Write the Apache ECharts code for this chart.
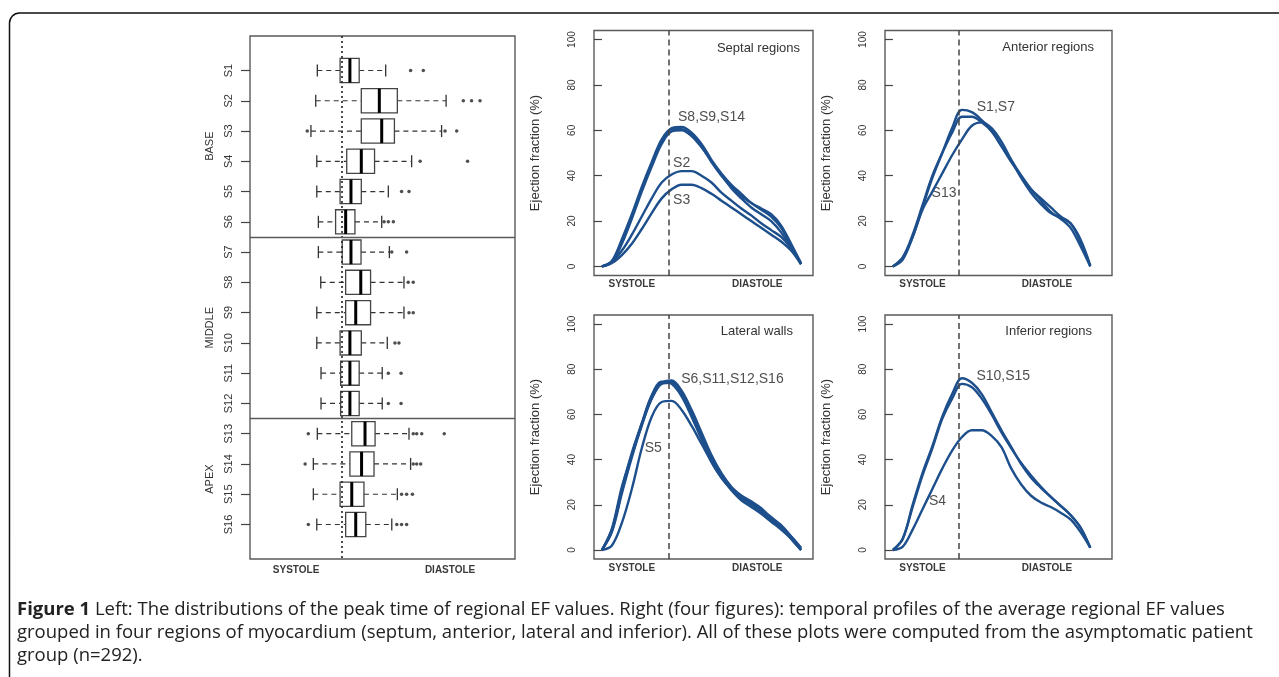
<!DOCTYPE html>
<html>
<head>
<meta charset="utf-8">
<title>Regional EF peak time and temporal profiles</title>
<script src="https://cdn.jsdelivr.net/npm/echarts@6/dist/echarts.min.js"></script>
<style>
  html, body { margin: 0; padding: 0; background: #fff; }
  #chart { width: 1279px; height: 677px; }
</style>
</head>
<body>
<div id="chart"></div>
<script>
// ---- left panel: peak time of regional EF (0 = start of cycle, 100 = end) ----
var segments = ['S1','S2','S3','S4','S5','S6','S7','S8','S9','S10','S11','S12','S13','S14','S15','S16'];
var whiskerLow  = [25.4, 24.8, 23.0, 25.2, 25.2, 25.8, 25.8, 26.7, 25.2, 25.2, 26.8, 26.8, 25.4, 23.9, 23.9, 25.2];
var boxQ1       = [34.0, 42.0, 42.0, 36.5, 34.0, 32.3, 34.8, 36.1, 36.1, 34.0, 34.2, 34.2, 38.4, 37.7, 34.0, 36.1];
var boxMedian   = [37.7, 48.8, 49.7, 42.0, 38.1, 36.1, 38.1, 41.8, 39.9, 37.7, 37.7, 37.7, 43.4, 42.1, 38.4, 39.9];
var boxQ3       = [41.2, 55.6, 54.5, 47.0, 42.0, 39.6, 41.9, 45.5, 45.5, 42.0, 41.2, 41.2, 47.2, 46.8, 43.0, 43.7];
var whiskerHigh = [51.2, 74.0, 72.3, 61.0, 52.2, 49.7, 52.6, 58.1, 58.1, 51.8, 49.9, 49.9, 60.0, 60.6, 55.6, 53.5];
// [segment number, value]
var outliers = [
  [1, 60.6], [1, 65.4],
  [2, 80.5], [2, 83.6], [2, 86.8],
  [3, 21.6], [3, 73.6], [3, 78.0],
  [4, 64.2], [4, 82.1],
  [5, 57.2], [5, 60.0],
  [6, 50.6], [6, 52.2], [6, 54.1],
  [7, 53.5], [7, 59.1],
  [8, 59.7], [8, 61.6],
  [9, 60.0], [9, 61.6],
  [10, 54.7], [10, 56.2],
  [11, 52.2], [11, 57.0],
  [12, 52.2], [12, 57.0],
  [13, 22.0], [13, 61.6], [13, 62.9], [13, 64.8], [13, 73.3],
  [14, 20.8], [14, 61.6], [14, 62.9], [14, 64.4],
  [15, 57.2], [15, 59.1], [15, 61.3],
  [16, 22.0], [16, 55.4], [16, 57.2], [16, 59.1]
];
var groupNames = ['BASE', 'MIDDLE', 'APEX'];
var groupCenters = [3.5, 9.5, 14.5];
var groupBreaks = [6.5, 12.5];
var peakTimeLine = 34.7;
var phaseNames = ['SYSTOLE', 'DIASTOLE'];
var boxPhaseTicks = [17.4, 75.5];

// ---- right panels: average regional EF profiles ----
var profileTime = [0, 5, 10, 15, 20, 25, 30, 35, 40, 45, 50, 55, 60, 65, 70, 75, 80, 85, 90, 95, 100];
var efTicks = [0, 20, 40, 60, 80, 100];
var profilePhaseTicks = [15, 78];
var profilePeakLine = 33.5;

var septalS8  = [0, 2, 11, 22, 34, 45, 55, 61, 61.5, 59, 54, 47, 41, 36, 32, 28, 25, 22, 17, 9, 1];
var septalS9  = [0, 2.5, 12, 23, 35, 46, 56, 60.5, 60.5, 58, 53, 46, 40, 35, 31, 28, 25.5, 23, 18, 10, 1.5];
var septalS14 = [0, 2, 10, 21, 33, 44, 54, 59.5, 60, 57.5, 52.5, 46.5, 40.5, 34.5, 30, 26, 23, 20, 15, 8, 1];
var septalS2  = [0, 2, 7, 14, 22, 30, 37, 40.5, 42, 42, 40, 37, 32.5, 29, 25.5, 22.5, 19, 16, 13, 8, 1];
var septalS3  = [0, 1.5, 5, 10, 16.5, 23.5, 30, 34, 36, 36, 34.5, 32, 29, 26, 23, 20, 17, 14, 11, 7, 1];

var anteriorS1  = [0, 4, 13, 26, 39, 50, 61, 69, 68, 64.5, 60, 53, 46, 40, 34, 30, 26, 22, 19, 11, 0];
var anteriorS7  = [0, 4, 14, 27, 40, 50, 59, 66, 66, 63.5, 59.5, 53, 46.5, 39, 32.5, 27.5, 23.5, 21.5, 19, 12, 0.5];
var anteriorS13 = [0, 3, 13, 25, 33, 41, 49, 56, 62, 63.5, 61, 55, 47, 40, 34, 29, 24, 21, 17, 9, 0];

var lateralS6  = [0, 9, 27, 43, 56, 68, 74, 74.5, 70, 61, 51, 41, 33, 27, 23, 20.5, 17, 13, 10, 5, 0];
var lateralS11 = [0, 8, 25, 41, 55, 67, 73.5, 74, 69, 60, 50, 40, 32.5, 27.5, 24, 21.5, 18.5, 14, 10.5, 6, 1];
var lateralS12 = [0, 9.5, 28, 42, 56, 68.5, 74.5, 73.5, 68, 59, 49, 39, 32, 26.5, 22, 19, 16, 12.5, 9, 5, 0];
var lateralS16 = [0, 8.5, 26, 42, 55.5, 67, 74, 75, 70.5, 62, 52, 42, 34, 28, 24, 21, 18, 14.5, 11, 6, 0.5];
var lateralS5  = [0, 2, 12, 27, 45, 59, 65.5, 66, 62, 55, 47, 39, 32, 27, 23, 20, 17, 13, 10, 5, 0];

var inferiorS10 = [0, 5, 20, 34, 46, 59, 69, 76, 74, 69, 61, 53, 45.5, 38, 32, 27.5, 23.5, 19.5, 15.5, 10, 1];
var inferiorS15 = [0, 5, 19, 33, 45, 58, 67, 73.5, 72, 67, 60, 52, 45, 38.5, 33, 28, 23.5, 19.5, 15.5, 10, 1];
var inferiorS4  = [0, 1.5, 9, 18, 27, 36, 44, 50, 53, 53, 50.5, 45.5, 36, 29, 24, 21, 19, 16.5, 13.5, 8, 1];

// curve annotations: [text, time, EF]
var septalNotes   = [['S8,S9,S14', 38.2, 65.6], ['S2', 35.7, 45.7], ['S3', 35.7, 29.4]];
var anteriorNotes = [['S1,S7', 42.5, 70.4], ['S13', 19.6, 32.2]];
var lateralNotes  = [['S6,S11,S12,S16', 39.8, 75.8], ['S5', 21.5, 45.2]];
var inferiorNotes = [['S10,S15', 42.3, 76.8], ['S4', 18.3, 21.4]];

var panels = [
  { title: 'Septal regions',   curves: [septalS8, septalS9, septalS14, septalS2, septalS3], notes: septalNotes,
    grid: { left: 594, top: 30.5, width: 219, height: 245 }, xMax: 106, titleX: 800, titleY: 48 },
  { title: 'Anterior regions', curves: [anteriorS1, anteriorS7, anteriorS13], notes: anteriorNotes,
    grid: { left: 885, top: 30.5, width: 227, height: 245 }, xMax: 111, titleX: 1094, titleY: 47 },
  { title: 'Lateral walls',    curves: [lateralS6, lateralS11, lateralS12, lateralS16, lateralS5], notes: lateralNotes,
    grid: { left: 594, top: 315, width: 219, height: 244 }, xMax: 106, titleX: 793, titleY: 331 },
  { title: 'Inferior regions', curves: [inferiorS10, inferiorS15, inferiorS4], notes: inferiorNotes,
    grid: { left: 885, top: 315, width: 227, height: 244 }, xMax: 111, titleX: 1092, titleY: 331 }
];

var FONT = 'Liberation Sans, Arial, sans-serif';
var frameColor = '#5a5a5a';
var curveColor = '#1d4f8c';

function phaseLabel(ticks) {
  return function (v) {
    var best = 0;
    for (var i = 1; i < ticks.length; i++) {
      if (Math.abs(ticks[i] - v) < Math.abs(ticks[best] - v)) best = i;
    }
    return phaseNames[best];
  };
}

// draws one horizontal box with dashed whiskers and staples
function renderBox(params, api) {
  var row = api.value(0);
  var lo = api.coord([api.value(1), row]);
  var q1 = api.coord([api.value(2), row]);
  var md = api.coord([api.value(3), row]);
  var q3 = api.coord([api.value(4), row]);
  var hi = api.coord([api.value(5), row]);
  var h = api.size([0, 1])[1] * 0.8;
  var y = lo[1];
  var dash = { stroke: '#333', lineWidth: 1.2, lineDash: [5, 4] };
  var solid = { stroke: '#333', lineWidth: 1.3 };
  return {
    type: 'group',
    children: [
      { type: 'line', shape: { x1: lo[0], y1: y, x2: q1[0], y2: y }, style: dash },
      { type: 'line', shape: { x1: q3[0], y1: y, x2: hi[0], y2: y }, style: dash },
      { type: 'line', shape: { x1: lo[0], y1: y - h / 4, x2: lo[0], y2: y + h / 4 }, style: solid },
      { type: 'line', shape: { x1: hi[0], y1: y - h / 4, x2: hi[0], y2: y + h / 4 }, style: solid },
      { type: 'rect', shape: { x: q1[0], y: y - h / 2, width: q3[0] - q1[0], height: h },
        style: { fill: 'none', stroke: '#444', lineWidth: 1.3 } },
      { type: 'line', shape: { x1: md[0], y1: y - h / 2, x2: md[0], y2: y + h / 2 },
        style: { stroke: '#000', lineWidth: 3 } }
    ]
  };
}

var boxData = segments.map(function (s, i) {
  return [i + 1, whiskerLow[i], boxQ1[i], boxMedian[i], boxQ3[i], whiskerHigh[i]];
});

var grids = [{ left: 250, top: 36, width: 265, height: 523, show: true, borderColor: frameColor, borderWidth: 1.4 }];
var xAxes = [{
  gridIndex: 0, type: 'value', min: 0, max: 100,
  axisLine: { show: false }, axisTick: { show: false }, splitLine: { show: false },
  axisLabel: { customValues: boxPhaseTicks, formatter: phaseLabel(boxPhaseTicks), margin: 6,
    fontSize: 10, fontWeight: 'bold', color: '#3a3a3a', fontFamily: FONT }
}];
var yAxes = [{
  gridIndex: 0, type: 'value', position: 'left', min: -0.14, max: 17.14, inverse: true,
  axisLine: { show: false }, splitLine: { show: false },
  axisTick: { show: true, customValues: boxData.map(function (d) { return d[0]; }), length: 9,
    lineStyle: { color: '#444', width: 1.2 } },
  axisLabel: { customValues: boxData.map(function (d) { return d[0]; }),
    formatter: function (v) { return segments[v - 1]; }, rotate: 90, margin: 16,
    fontSize: 11, color: '#333', fontFamily: FONT }
}, {
  gridIndex: 0, type: 'value', position: 'left', offset: 0, min: -0.14, max: 17.14, inverse: true,
  axisLine: { show: false }, splitLine: { show: false }, axisTick: { show: false },
  axisLabel: { customValues: groupCenters,
    formatter: function (v) { return groupNames[groupCenters.indexOf(v)]; }, rotate: 90, margin: 35,
    fontSize: 11, color: '#333', fontFamily: FONT }
}];

var series = [{
  type: 'custom', xAxisIndex: 0, yAxisIndex: 0, renderItem: renderBox, data: boxData,
  encode: { x: [1, 2, 3, 4, 5], y: 0 }, silent: true
}, {
  type: 'scatter', xAxisIndex: 0, yAxisIndex: 0, symbolSize: 3.5, silent: true,
  itemStyle: { color: '#222' },
  data: outliers.map(function (o) { return [o[1], o[0]]; }),
  markLine: {
    silent: true, symbol: ['none', 'none'], label: { show: false },
    data: [
      { xAxis: peakTimeLine, lineStyle: { type: [2, 3], color: '#222', width: 1.6 } },
      { yAxis: groupBreaks[0], lineStyle: { type: 'solid', color: frameColor, width: 1.3 } },
      { yAxis: groupBreaks[1], lineStyle: { type: 'solid', color: frameColor, width: 1.3 } }
    ]
  }
}];

var graphics = [];

panels.forEach(function (p, k) {
  var gi = k + 1;
  var g = p.grid;
  grids.push({ left: g.left, top: g.top, width: g.width, height: g.height, show: true,
    borderColor: frameColor, borderWidth: 1.4 });
  xAxes.push({
    gridIndex: gi, type: 'value', min: -4, max: p.xMax,
    axisLine: { show: false }, axisTick: { show: false }, splitLine: { show: false },
    axisLabel: { customValues: profilePhaseTicks, formatter: phaseLabel(profilePhaseTicks), margin: 4,
      fontSize: 10, fontWeight: 'bold', color: '#3a3a3a', fontFamily: FONT }
  });
  yAxes.push({
    gridIndex: gi, type: 'value', position: 'left', min: -4, max: 104,
    axisLine: { show: false }, splitLine: { show: false },
    axisTick: { show: true, customValues: efTicks, length: 8, lineStyle: { color: '#444', width: 1.2 } },
    axisLabel: { customValues: efTicks, rotate: 90, margin: 17, fontSize: 10, color: '#333', fontFamily: FONT },
    name: 'Ejection fraction (%)', nameLocation: 'middle', nameRotate: 90, nameGap: 52,
    nameTextStyle: { fontSize: 13, color: '#333', fontFamily: FONT }
  });
  p.curves.forEach(function (c, j) {
    var s = {
      type: 'line', xAxisIndex: gi, yAxisIndex: gi + 1, smooth: 0.35, showSymbol: false, silent: true,
      lineStyle: { color: curveColor, width: 2.4 },
      data: profileTime.map(function (t, i) { return [t, c[i]]; })
    };
    if (j === 0) {
      s.markLine = {
        silent: true, symbol: ['none', 'none'], label: { show: false },
        lineStyle: { type: [6, 4], color: '#444', width: 1.5 },
        data: [{ xAxis: profilePeakLine }]
      };
    }
    series.push(s);
  });
  series.push({
    type: 'scatter', xAxisIndex: gi, yAxisIndex: gi + 1, symbolSize: 0, silent: true,
    data: p.notes.map(function (n) { return { name: n[0], value: [n[1], n[2]] }; }),
    label: { show: true, position: 'right', distance: 0, formatter: '{b}',
      fontSize: 14, color: '#222', fontFamily: FONT }
  });
  graphics.push({
    type: 'text', x: p.titleX, y: p.titleY, silent: true,
    style: { text: p.title, align: 'right', verticalAlign: 'middle', font: '13px ' + FONT, fill: '#333' }
  });
});

// figure frame and caption
graphics.push({
  type: 'rect', silent: true, z: -1,
  shape: { x: 9.5, y: 13, width: 1300, height: 700, r: 10 },
  style: { fill: 'none', stroke: '#111', lineWidth: 1.5 }
});
graphics.push({
  type: 'text', x: 17, y: 598, silent: true,
  style: {
    text: '{b|Figure 1} Left: The distributions of the peak time of regional EF values. Right (four figures): temporal profiles of the average regional EF values\n' +
          'grouped in four regions of myocardium (septum, anterior, lateral and inferior). All of these plots were computed from the asymptomatic patient\n' +
          'group (n=292).',
    font: '18.5px "Open Sans"', fill: '#222', lineHeight: 23,
    rich: { b: { fontWeight: 'bold', fontSize: 18.5, fontFamily: 'Open Sans', fill: '#222', lineHeight: 23 } }
  }
});

var chart = echarts.init(document.getElementById('chart'));
chart.setOption({
  animation: false,
  backgroundColor: '#fff',
  grid: grids,
  xAxis: xAxes,
  yAxis: yAxes,
  series: series,
  graphic: graphics
});
</script>
</body>
</html>
